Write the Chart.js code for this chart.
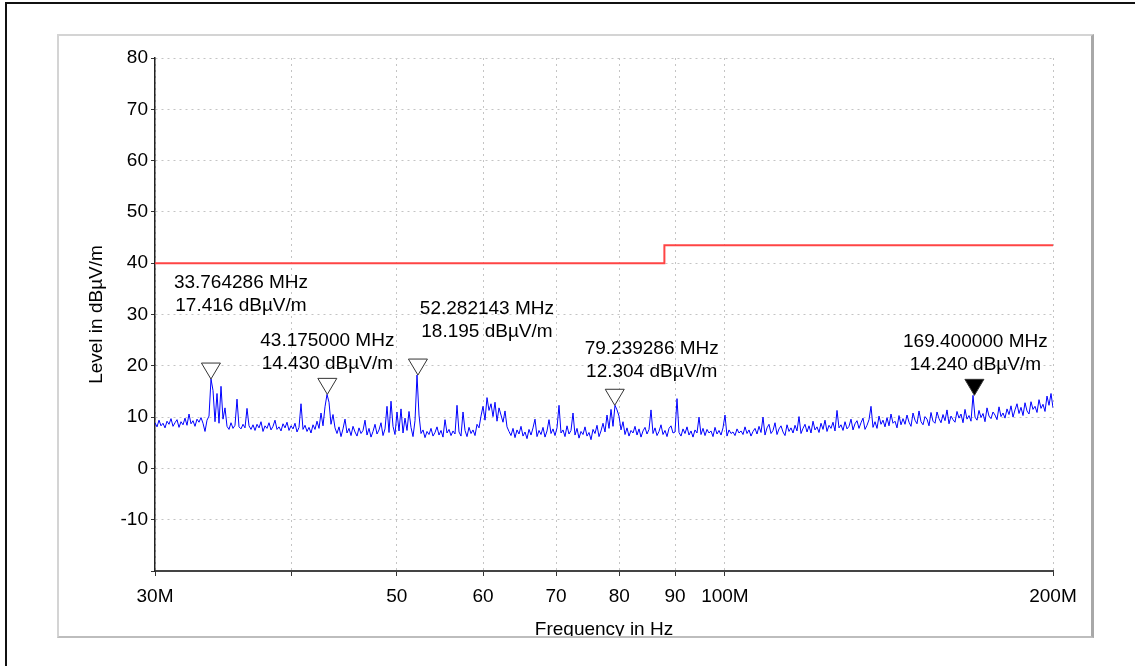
<!DOCTYPE html>
<html>
<head>
<meta charset="utf-8">
<title>Radiated emission scan 30 MHz - 200 MHz</title>
<script src="https://cdn.jsdelivr.net/npm/chart.js@4.4.0/dist/chart.umd.min.js"></script>
<style>
    html, body { margin: 0; padding: 0; background: #fff; overflow: hidden; }
    #frame {
        position: absolute; left: 5px; top: 2px; width: 1200px; height: 700px;
        border-left: 2px solid #111; border-top: 2px solid #111;
    }
    #panel {
        position: absolute; left: 57px; top: 34px; width: 1032px; height: 600px;
        border-top: 2px solid #d4d4d4; border-left: 2px solid #d4d4d4;
        border-right: 3px solid #a8a8a8; border-bottom: 2px solid #bdbdbd;
        overflow: hidden; background: #fff;
    }
    #scan { position: absolute; left: -59px; top: -36px; }
</style>
</head>
<body>
<div id="frame"></div>
<div id="panel"><canvas id="scan" width="1135" height="666"></canvas></div>
<script>
// sweep 30 MHz .. 200 MHz, peak detector levels in dBuV/m
const sweepStartMHz = 30;
const sweepStopMHz = 200;
const levels = [
    8.9, 8.1, 9.4, 8.3, 8.8, 7.9, 9.2, 8.6, 9.7, 8.2, 8.9, 9.5, 8.0, 9.1, 8.5, 9.8, 8.4, 10.6, 8.7, 9.3, 8.2, 9.6, 9.0, 9.9, 8.8,
    7.2, 9.4, 10.2, 17.42, 15.2, 9.1, 14.6, 8.8, 16.0, 9.6, 11.8, 8.2, 7.6, 8.9, 7.8, 8.4, 13.5, 8.1, 7.7, 8.6, 7.9, 11.7, 8.3, 7.6, 8.5,
    7.4, 8.6, 7.9, 9.1, 7.2, 8.3, 7.8, 8.9, 7.5, 8.2, 9.4, 7.6, 8.1, 7.3, 8.7, 7.9, 9.0, 7.4, 8.3, 7.7, 8.8, 7.1, 8.0, 12.6, 7.6,
    8.4, 7.2, 8.0, 6.9, 8.5, 7.6, 9.2, 7.8, 10.8, 8.3, 12.0, 14.43, 12.9, 8.6, 10.5, 7.9, 6.8, 8.1, 6.2, 7.7, 9.6, 6.9, 7.8, 6.4, 8.2,
    7.1, 6.3, 7.9, 6.8, 7.4, 9.4, 6.5, 7.8, 6.1, 7.2, 8.6, 6.7, 7.5, 8.9, 6.4, 7.7, 12.1, 7.0, 13.1, 8.2, 6.6, 11.0, 7.3, 11.6, 6.9,
    9.8, 7.4, 11.1, 8.0, 6.2, 9.3, 18.2, 10.4, 6.8, 7.5, 6.0, 7.2, 6.6, 7.8, 6.3, 7.0, 8.1, 6.5, 7.4, 6.1, 9.5, 6.9, 7.6, 6.4, 7.3,
    6.7, 12.3, 7.1, 6.3, 11.0, 7.4, 6.2, 8.0, 6.8, 7.5, 6.4, 8.6, 7.9, 10.2, 12.1, 9.4, 13.8, 11.3, 12.6, 10.1, 12.9, 9.2, 11.8, 10.4, 9.0,
    11.2, 8.1, 7.2, 6.4, 7.8, 6.0, 7.5, 6.7, 8.2, 6.3, 7.1, 5.8, 7.6, 6.5, 7.9, 9.6, 6.2, 7.4, 6.6, 8.0, 6.1, 7.3, 9.5, 6.8, 7.7,
    6.4, 7.9, 12.3, 6.9, 7.5, 6.2, 8.3, 6.7, 7.4, 10.8, 6.5, 7.8, 5.9, 7.2, 6.6, 8.1, 6.3, 7.0, 5.6, 7.6, 6.8, 8.4, 6.2, 7.3, 8.8,
    7.1, 10.4, 7.8, 11.5, 8.2, 12.3, 11.4, 10.2, 7.5, 9.1, 6.6, 7.9, 6.3, 7.4, 6.9, 8.2, 6.5, 7.7, 6.1, 7.3, 8.0, 6.7, 7.6, 11.4, 6.8,
    7.9, 6.4, 7.2, 8.5, 6.6, 7.4, 6.2, 7.8, 8.3, 6.9, 7.1, 13.6, 7.0, 6.3, 7.7, 6.8, 8.1, 6.5, 7.3, 6.1, 7.5, 6.9, 10.0, 6.6, 7.8,
    6.4, 7.6, 6.9, 7.3, 6.2, 8.0, 6.7, 7.4, 6.5, 7.9, 10.4, 6.3, 7.5, 6.8, 7.1, 6.4, 7.7, 6.9, 7.3, 6.6, 8.1, 6.8, 7.5, 6.3, 7.2,
    7.8, 6.7, 8.2, 7.0, 10.0, 6.5, 7.9, 8.6, 6.8, 7.4, 8.9, 6.6, 7.7, 8.3, 7.1, 6.4, 8.5, 7.2, 7.9, 6.9, 8.4, 7.3, 10.1, 6.8, 7.8,
    8.6, 7.1, 8.3, 6.9, 9.2, 7.5, 8.1, 7.0, 8.8, 7.6, 9.4, 7.2, 8.4, 7.8, 9.0, 7.3, 11.3, 7.9, 8.5, 7.4, 9.1, 7.7, 8.2, 9.6, 7.5,
    8.7, 9.3, 7.8, 8.9, 9.8, 7.6, 8.4, 9.5, 12.1, 8.0, 9.1, 7.8, 10.2, 8.6, 9.4, 8.1, 9.9, 8.3, 10.6, 8.8, 9.2, 7.9, 10.3, 8.5, 9.7,
    8.6, 10.4, 9.0, 8.2, 10.8, 9.4, 8.7, 11.2, 9.1, 8.5, 10.1, 9.6, 8.3, 10.9, 9.2, 8.8, 11.0, 9.7, 8.9, 10.5, 9.3, 11.4, 8.7, 10.2, 9.5,
    9.0, 11.1, 9.8, 10.6, 8.9, 11.5, 9.6, 10.3, 9.2, 14.24, 10.0, 9.4, 11.3, 9.9, 10.7, 9.1, 11.8, 10.2, 9.7, 11.0, 10.4, 9.5, 12.0, 10.1, 10.8,
    9.8, 11.6, 10.5, 12.2, 10.0, 11.4, 12.6, 10.7, 11.9, 10.3, 12.8, 11.2, 10.6, 13.0, 11.5, 12.1, 10.9, 13.4, 11.7, 12.5, 11.1, 14.1, 12.3, 14.6, 11.8
];

// limit line (class B, 3 m)
const limitFreqs = [30, 88, 88, 200];
const limitLevels = [40, 40, 43.5, 43.5];

// peak markers
const markerFreqs = [33.764286, 43.175, 52.282143, 79.239286, 169.4];
const markerLevels = [17.416, 14.430, 18.195, 12.304, 14.240];
const activeMarker = 4;

// axis ticks
const freqTicks = [30, 40, 50, 60, 70, 80, 90, 100, 200];
const freqTickLabels = ['30M', '', '50', '60', '70', '80', '90', '100M', '200M'];
const levelMin = -20;
const levelMax = 80;

// label placement relative to the marker tip (px)
const markerLabelShift = [[30, -96], [0, -54], [69, -66], [37, -57], [1, -54]];

// measurement points of the sweep (log spaced grid)
const sweepFreqs = levels.map((_, i) =>
    sweepStartMHz * Math.pow(sweepStopMHz / sweepStartMHz, i / (levels.length - 1)));

const FONT = '"Liberation Sans", Arial, sans-serif';
Chart.defaults.font.family = FONT;
Chart.defaults.font.size = 19;
Chart.defaults.color = '#000';

const markerPlugin = {
    id: 'markerPlugin',
    afterDatasetsDraw(chart) {
        const ctx = chart.ctx;
        const meta = chart.getDatasetMeta(2);
        meta.data.forEach((pt, i) => {
            const x = pt.x, y = pt.y;
            ctx.save();
            ctx.beginPath();
            ctx.moveTo(x, y);
            ctx.lineTo(x - 9.5, y - 16);
            ctx.lineTo(x + 9.5, y - 16);
            ctx.closePath();
            ctx.fillStyle = i === activeMarker ? '#000' : '#fff';
            ctx.fill();
            ctx.strokeStyle = '#333';
            ctx.lineWidth = 1;
            ctx.stroke();

            const [dx, dy] = markerLabelShift[i];
            ctx.font = '19px ' + FONT;
            ctx.fillStyle = '#000';
            ctx.textAlign = 'center';
            ctx.textBaseline = 'middle';
            ctx.fillText(markerFreqs[i].toFixed(6) + ' MHz', x + dx, y + dy);
            ctx.fillText(markerLevels[i].toFixed(3) + ' dBµV/m', x + dx, y + dy + 23);
            ctx.restore();
        });
    }
};

const ctx = document.getElementById('scan').getContext('2d');
new Chart(ctx, {
    type: 'scatter',
    data: {
        datasets: [{
            label: 'Peak',
            data: sweepFreqs.map((f, i) => ({ x: f, y: levels[i] })),
            showLine: true,
            borderColor: '#0000ff',
            borderWidth: 1,
            pointRadius: 0,
            tension: 0
        }, {
            label: 'Limit',
            data: limitFreqs.map((f, i) => ({ x: f, y: limitLevels[i] })),
            showLine: true,
            borderColor: '#ff4545',
            borderWidth: 2,
            pointRadius: 0
        }, {
            label: 'Markers',
            data: markerFreqs.map((f, i) => ({ x: f, y: markerLevels[i] })),
            showLine: false,
            pointRadius: 0
        }]
    },
    options: {
        responsive: false,
        animation: false,
        layout: { padding: { left: 0, top: 58, right: 82, bottom: 0 } },
        plugins: {
            legend: { display: false },
            tooltip: { enabled: false }
        },
        scales: {
            x: {
                type: 'logarithmic',
                min: sweepStartMHz,
                max: sweepStopMHz,
                afterBuildTicks: s => { s.ticks = freqTicks.map(v => ({ value: v })); },
                afterFit: s => { s.height = 95; },
                ticks: {
                    autoSkip: false,
                    maxRotation: 0,
                    padding: 9,
                    callback: (v, i) => freqTickLabels[i] ?? ''
                },
                grid: { color: '#c4c4c4', lineWidth: 1, tickLength: 5, tickColor: '#333', tickWidth: 1 },
                border: { color: '#444', width: 2, dash: [2, 4] },
                title: { display: true, text: 'Frequency in Hz', padding: { top: 0, bottom: 25 } }
            },
            y: {
                min: levelMin,
                max: levelMax,
                afterFit: s => { s.width = 155; },
                ticks: {
                    stepSize: 5,
                    padding: 3,
                    callback: v => (v % 10 === 0 && v > levelMin) ? String(v) : ''
                },
                grid: { color: '#c4c4c4', lineWidth: 1, tickLength: 4, tickColor: '#333', tickWidth: 1 },
                border: { color: '#222', width: 1.5, dash: [2, 4] },
                title: { display: true, text: 'Level in dBµV/m', padding: { top: 85, bottom: 0 } }
            }
        }
    },
    plugins: [markerPlugin]
});
</script>
</body>
</html>
